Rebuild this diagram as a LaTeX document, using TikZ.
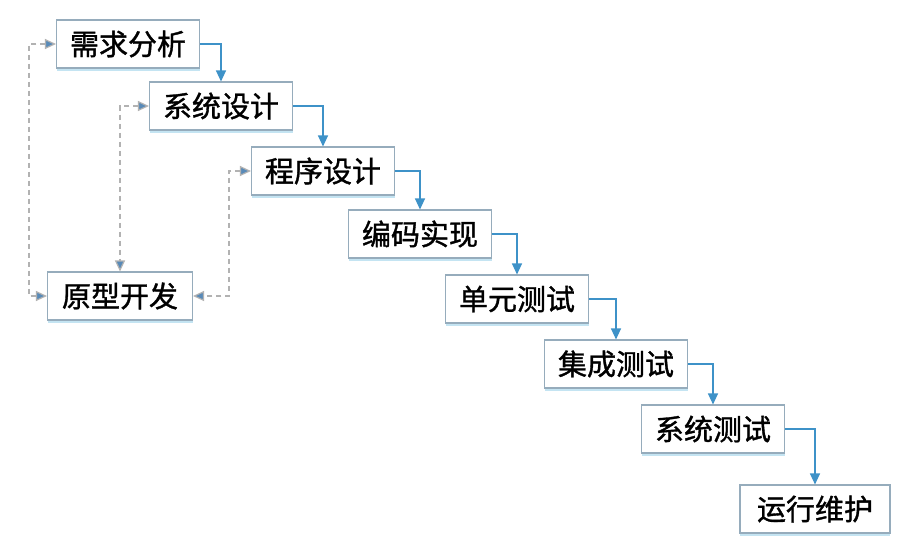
\documentclass[tikz,border=0pt]{standalone}
\usepackage{fontspec}
\newfontfamily\cjk[FakeBold=1.2]{Noto Sans CJK SC}
\usetikzlibrary{arrows.meta, shadows}
\definecolor{boxline}{RGB}{150,172,188}
\definecolor{boxglow}{RGB}{196,228,242}
\definecolor{flowblue}{RGB}{62,146,200}
\definecolor{dashgray}{RGB}{178,178,178}
\definecolor{tipblue}{RGB}{88,138,184}

\begin{document}
\begin{tikzpicture}[
  x=1pt, y=-1pt,
  every node/.style={font=\cjk\fontsize{29}{31}\selectfont},
  stagebox/.style={draw=boxline, fill=white, line width=1.1pt,
                minimum width=143pt, minimum height=48pt, inner sep=0pt,
                drop shadow={shadow xshift=0pt, shadow yshift=-2.5pt,
                  fill=boxglow, opacity=1}},
  flow/.style={-{Triangle[length=11pt, width=10pt]}, flowblue, line width=1.2pt},
  backflow/.style={{Triangle[length=11pt, width=10pt, fill=tipblue]}-{Triangle[length=11pt, width=10pt, fill=tipblue]},
                dashgray, line width=1.2pt, dash pattern=on 5pt off 4pt}
]
\useasboundingbox[fill=white] (0,0) rectangle (898,544);

\node[stagebox] (req) at (128,44) {需求分析};
\node[stagebox] (sys) at (221,106) {系统设计};
\node[stagebox] (prog) at (323,171) {程序设计};
\node[stagebox] (code) at (420,234) {编码实现};
\node[stagebox] (unit) at (517,299) {单元测试};
\node[stagebox] (integ) at (616,364) {集成测试};
\node[stagebox] (systest) at (713,429) {系统测试};
\node[stagebox, minimum width=150pt] (ops) at (815,509) {运行维护};
\node[stagebox, minimum width=145pt] (proto) at (120,296) {原型开发};

\draw[flow] (req.east) -| (sys.north);
\draw[flow] (sys.east) -| (prog.north);
\draw[flow] (prog.east) -| (code.north);
\draw[flow] (code.east) -| (unit.north);
\draw[flow] (unit.east) -| (integ.north);
\draw[flow] (integ.east) -| (systest.north);
\draw[flow] (systest.east) -| (ops.north);

\coordinate (lbend) at (29,44);
\coordinate (rbend) at (229,171);
\draw[backflow] (req.west) -- (lbend) |- (proto.west);
\draw[backflow] (sys.west) -| (proto.north);
\draw[backflow] (prog.west) -- (rbend) |- (proto.east);

\end{tikzpicture}
\end{document}
